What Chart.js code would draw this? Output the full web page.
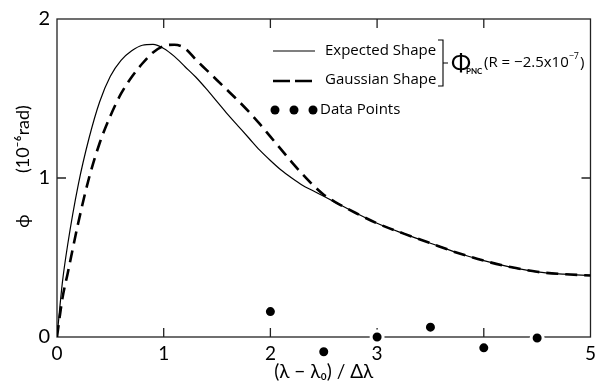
<!DOCTYPE html>
<html>
<head>
<meta charset="utf-8">
<script src="https://cdn.jsdelivr.net/npm/chart.js@4.4.1/dist/chart.umd.min.js"></script>
<style>
html, body { margin: 0; padding: 0; background: #fff; }
</style>
</head>
<body>
<canvas id="phiChart" width="601" height="383"></canvas>
<script>
// curve samples, x in units of delta lambda
var xGrid    = [0, 0.05, 0.1, 0.2, 0.3, 0.4, 0.5, 0.6, 0.7, 0.8, 0.9, 1.0, 1.1, 1.2, 1.3, 1.4, 1.5, 1.6, 1.7, 1.8, 1.9, 2.0, 2.1, 2.2, 2.3, 2.4, 2.5, 2.6, 2.8, 3.0, 3.25, 3.5, 3.75, 4.0, 4.25, 4.5, 4.75, 5.0];
var expected = [0, 0.34, 0.58, 0.96, 1.25, 1.48, 1.64, 1.74, 1.80, 1.835, 1.84, 1.815, 1.765, 1.70, 1.635, 1.56, 1.48, 1.40, 1.325, 1.25, 1.175, 1.11, 1.05, 1.0, 0.955, 0.92, 0.885, 0.85, 0.78, 0.715, 0.65, 0.59, 0.53, 0.48, 0.44, 0.41, 0.395, 0.387];
var gaussian = [0, 0.24, 0.40, 0.72, 1.0, 1.22, 1.39, 1.53, 1.635, 1.72, 1.79, 1.83, 1.838, 1.815, 1.745, 1.68, 1.615, 1.55, 1.485, 1.415, 1.34, 1.26, 1.18, 1.10, 1.025, 0.955, 0.895, 0.852, 0.78, 0.715, 0.65, 0.59, 0.53, 0.48, 0.44, 0.41, 0.395, 0.387];

var dataX = [2, 2.5, 3, 3.5, 4, 4.5];
var dataY = [0.16, -0.093, 0.0, 0.062, -0.068, -0.006];

var xTickLabels = {0: '0', 1: '1', 2: '2', 3: '3', 4: '', 5: '5'};
var yTickLabels = {0: '0', 1: '1', 2: '2'};

var FONT = 'Lato, "Open Sans", sans-serif';
var LEG_FONT = '"Open Sans", Lato, sans-serif';

function pairs(xs, ys) {
  var out = [];
  for (var i = 0; i < xs.length; i++) out.push({x: xs[i], y: ys[i]});
  return out;
}

// box around the plot with inward ticks
var framePlugin = {
  id: 'frame',
  beforeDatasetsDraw: function(chart) {
    var ctx = chart.ctx, a = chart.chartArea;
    var xs = chart.scales.x, ys = chart.scales.y;
    ctx.save();
    ctx.strokeStyle = '#222';
    ctx.lineWidth = 1.3;
    ctx.strokeRect(a.left, a.top, a.right - a.left, a.bottom - a.top);
    ctx.beginPath();
    [1, 2, 3, 4].forEach(function(v) {
      var px = xs.getPixelForValue(v);
      ctx.moveTo(px, a.bottom); ctx.lineTo(px, a.bottom - 9);
      ctx.moveTo(px, a.top); ctx.lineTo(px, a.top + 9);
    });
    var py = ys.getPixelForValue(1);
    ctx.moveTo(a.left, py); ctx.lineTo(a.left + 9, py);
    ctx.moveTo(a.right, py); ctx.lineTo(a.right - 9, py);
    ctx.stroke();
    ctx.restore();
    // let the points that sit just under the axis be drawn
    chart._savedBottom = a.bottom;
    a.bottom += 30;
  },
  afterDatasetsDraw: function(chart) {
    chart.chartArea.bottom = chart._savedBottom;
  }
};

// hand drawn legend with the bracket
var legendPlugin = {
  id: 'legendBox',
  afterDraw: function(chart) {
    var ctx = chart.ctx;
    ctx.save();
    ctx.strokeStyle = '#000';
    ctx.fillStyle = '#000';

    ctx.lineWidth = 1.2;
    ctx.beginPath(); ctx.moveTo(273, 51); ctx.lineTo(315, 51); ctx.stroke();

    ctx.lineWidth = 2.6;
    ctx.setLineDash([17, 5]);
    ctx.beginPath(); ctx.moveTo(273, 81); ctx.lineTo(315, 81); ctx.stroke();
    ctx.setLineDash([]);

    [275, 294, 313].forEach(function(cx) {
      ctx.beginPath(); ctx.arc(cx, 110, 4.5, 0, Math.PI * 2); ctx.fill();
    });

    ctx.font = '15px ' + LEG_FONT;
    ctx.textBaseline = 'middle';
    ctx.textAlign = 'left';
    ctx.fillText('Expected Shape', 325, 51);
    ctx.fillText('Gaussian Shape', 325, 80);
    ctx.fillText('Data Points', 320, 110);

    ctx.lineWidth = 1.1;
    ctx.beginPath();
    ctx.moveTo(438, 40); ctx.lineTo(443, 40); ctx.lineTo(443, 86); ctx.lineTo(438, 86);
    ctx.moveTo(443, 63); ctx.lineTo(448, 63);
    ctx.stroke();

    ctx.font = '24px ' + FONT;
    ctx.fillText('\u03A6', 451, 63);
    ctx.font = 'bold 8px ' + FONT;
    ctx.fillText('PNC', 466, 71);
    ctx.font = '15px ' + LEG_FONT;
    var s = '(R = \u22122.5x10';
    ctx.fillText(s, 484, 63);
    var w = ctx.measureText(s).width;
    ctx.font = '9px ' + LEG_FONT;
    ctx.fillText('\u22127', 484 + w, 56);
    var w2 = ctx.measureText('\u22127').width;
    ctx.font = '15px ' + LEG_FONT;
    ctx.fillText(')', 484 + w + w2 + 1, 63);
    ctx.restore();
  }
};

var ctx = document.getElementById('phiChart');
var phiChart = new Chart(ctx, {
  type: 'line',
  data: {
    datasets: [
      {
        label: 'Expected Shape',
        data: pairs(xGrid, expected),
        borderColor: '#000',
        borderWidth: 1.2,
        pointRadius: 0,
        cubicInterpolationMode: 'monotone',
        fill: false
      },
      {
        label: 'Gaussian Shape',
        data: pairs(xGrid, gaussian),
        borderColor: '#000',
        borderWidth: 2.6,
        borderDash: [12, 7],
        pointRadius: 0,
        cubicInterpolationMode: 'monotone',
        fill: false
      },
      {
        label: 'Data Points',
        type: 'scatter',
        data: pairs(dataX, dataY),
        showLine: false,
        backgroundColor: '#000',
        pointBackgroundColor: '#000',
        pointBorderColor: '#fff',
        pointBorderWidth: 3,
        pointRadius: 6,
        clip: false
      }
    ]
  },
  options: {
    responsive: false,
    animation: false,
    layout: { padding: { top: 14, right: 7, left: 0, bottom: 0 } },
    plugins: {
      legend: { display: false },
      tooltip: { enabled: false }
    },
    scales: {
      x: {
        type: 'linear',
        min: 0,
        max: 5,
        grid: { display: false, drawTicks: false },
        border: { display: false },
        ticks: {
          stepSize: 1,
          padding: 5,
          color: '#000',
          font: { family: FONT, size: 19 },
          maxRotation: 0,
          callback: function(v) { return xTickLabels[v]; }
        },
        title: {
          display: true,
          text: '(\u03BB \u2212 \u03BB\u2080) / \u0394\u03BB',
          color: '#000',
          font: { family: FONT, size: 19 },
          padding: { top: 0, bottom: 0 }
        },
        afterFit: function(scale) { scale.height = 46; }
      },
      y: {
        type: 'linear',
        min: 0,
        max: 2,
        grid: { display: false, drawTicks: false },
        border: { display: false },
        ticks: {
          stepSize: 1,
          padding: 7,
          color: '#000',
          font: { family: FONT, size: 20 },
          callback: function(v) { return yTickLabels[v]; }
        },
        title: {
          display: true,
          text: '     \u03D5         (10\u207B\u2076rad)',
          color: '#000',
          font: { family: FONT, size: 18 },
          padding: { top: 12, bottom: 0 }
        },
        afterFit: function(scale) { scale.width = 57; }
      }
    }
  },
  plugins: [framePlugin, legendPlugin]
});
</script>
</body>
</html>
